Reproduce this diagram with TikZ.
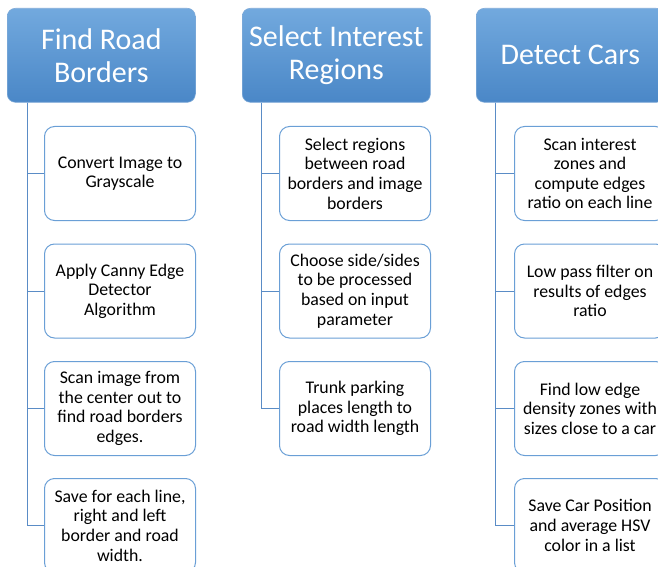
\documentclass[tikz,border=0pt]{standalone}
\usepackage{fontspec}
\setmainfont{Carlito}
\definecolor{headtop}{HTML}{72A9DE}
\definecolor{headbot}{HTML}{4A87C7}
\definecolor{taskline}{HTML}{6A9FD6}
\definecolor{linkcol}{HTML}{5A8CC6}
\begin{document}
\begin{tikzpicture}[x=1pt,y=-1pt,
  head/.style={rounded corners=8pt, top color=headtop, bottom color=headbot,
    draw=headbot!70!white, line width=0.6pt, minimum width=188pt, minimum height=94pt,
    anchor=north west, inner sep=0pt, text=white, align=center,
    font=\fontsize{30}{33}\selectfont},
  task/.style={rounded corners=10pt, draw=taskline, line width=1pt, fill=white,
    minimum width=151pt, minimum height=94pt, anchor=north west, inner sep=0pt,
    align=center, font=\fontsize{17.8}{19.6}\selectfont},
  link/.style={draw=linkcol, line width=1pt}]
\useasboundingbox (0,0) rectangle (658,567);
\clip (0,0) rectangle (658,567);

% column headers
\node[head] (h1) at (7,8) {Find Road\\Borders};
\node[head] (h2) at (242,8) {Select Interest\\Regions};
\node[head] (h3) at (476,8) {Detect Cars};

% first column
\node[task] (a1) at (44,126) {Convert Image to\\Grayscale};
\node[task] (a2) at (44,243.5) {Apply Canny Edge\\Detector\\Algorithm};
\node[task] (a3) at (44,361) {Scan image from\\the center out to\\find road borders\\edges.};
\node[task] (a4) at (44,478) {Save for each line,\\right and left\\border and road\\width.};

% second column
\node[task] (b1) at (279,126) {Select regions\\between road\\borders and image\\borders};
\node[task] (b2) at (279,243.5) {Choose side/sides\\to be processed\\based on input\\parameter};
\node[task] (b3) at (279,361) {Trunk parking\\places length to\\road width length};

% third column
\node[task] (c1) at (514,126) {Scan interest\\zones and\\compute edges\\ratio on each line};
\node[task] (c2) at (514,243.5) {Low pass filter on\\results of edges\\ratio};
\node[task] (c3) at (514,361) {Find low edge\\density zones with\\sizes close to a car};
\node[task] (c4) at (514,478) {Save Car Position\\and average HSV\\color in a list};

% connectors from each header to its tasks
\foreach \t in {a1,a2,a3,a4}
  \draw[link] (h1.south west) ++(20,0) |- (\t.west);
\foreach \t in {b1,b2,b3}
  \draw[link] (h2.south west) ++(19,0) |- (\t.west);
\foreach \t in {c1,c2,c3,c4}
  \draw[link] (h3.south west) ++(19,0) |- (\t.west);
\end{tikzpicture}
\end{document}
